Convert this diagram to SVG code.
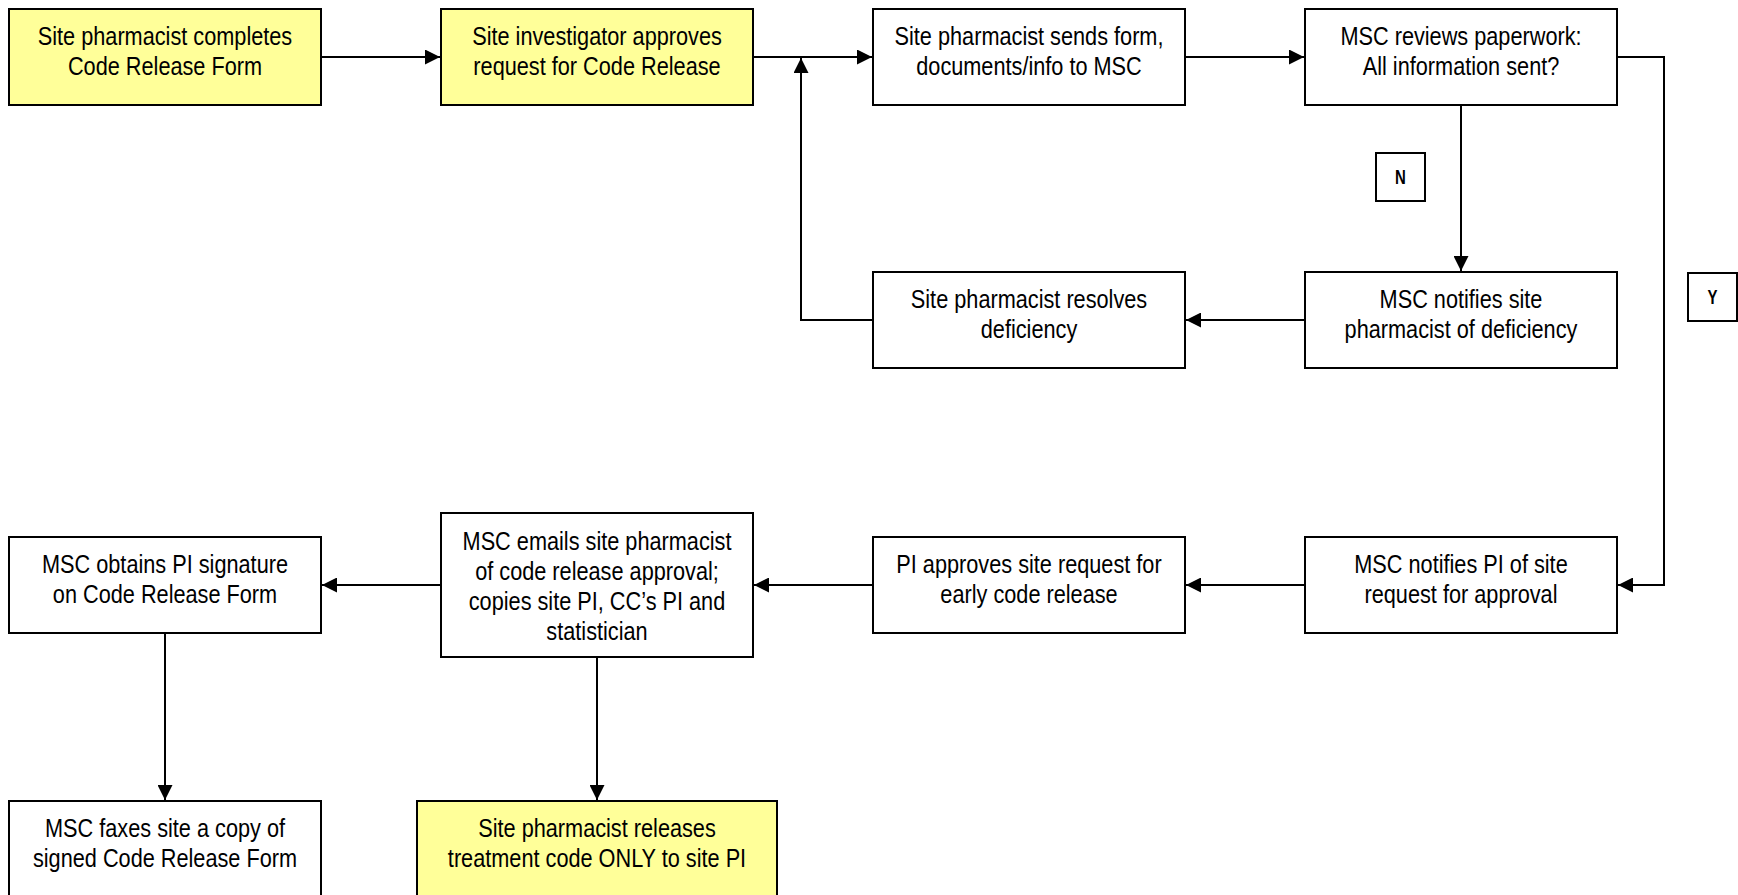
<svg xmlns="http://www.w3.org/2000/svg" width="1738" height="895" viewBox="0 0 1738 895">
  <style>
    .box { fill: #ffffff; stroke: #000000; stroke-width: 2; }
    .hi { fill: #ffff99; }
    .lbl { font-family: "Liberation Sans", Arial, sans-serif; font-size: 26px; text-anchor: middle; fill: #000000; }
    .tag { font-family: "Liberation Sans", Arial, sans-serif; font-size: 20px; font-weight: bold; text-anchor: middle; fill: #000000; }
    .wire { fill: none; stroke: #000000; stroke-width: 2; }
  </style>
  <defs>
    <marker id="arrow" markerUnits="userSpaceOnUse" markerWidth="15" markerHeight="15" viewBox="0 0 15 15" refX="15" refY="7.5" orient="auto">
      <path d="M0,0 L15,7.5 L0,15 z" fill="#000000"/>
    </marker>
  </defs>

  <rect width="1738" height="895" fill="#ffffff"/>

  <!-- connectors -->
  <g id="connectors">
    <path class="wire" d="M321 57 H440" marker-end="url(#arrow)"/>
    <path class="wire" d="M753 57 H872" marker-end="url(#arrow)"/>
    <path class="wire" d="M873 320 H801 V58" marker-end="url(#arrow)"/>
    <path class="wire" d="M1185 57 H1304" marker-end="url(#arrow)"/>
    <path class="wire" d="M1461 105 V271" marker-end="url(#arrow)"/>
    <path class="wire" d="M1617 57 H1664 V585 H1618" marker-end="url(#arrow)"/>
    <path class="wire" d="M1305 320 H1186" marker-end="url(#arrow)"/>
    <path class="wire" d="M1305 585 H1186" marker-end="url(#arrow)"/>
    <path class="wire" d="M873 585 H754" marker-end="url(#arrow)"/>
    <path class="wire" d="M441 585 H322" marker-end="url(#arrow)"/>
    <path class="wire" d="M165 633 V800" marker-end="url(#arrow)"/>
    <path class="wire" d="M597 657 V800" marker-end="url(#arrow)"/>
  </g>

  <!-- decision labels -->
  <g id="label-n">
    <rect class="box" x="1376" y="153" width="49" height="48"/>
    <text class="tag" transform="translate(1400.5 184) scale(0.75 1)">N</text>
  </g>
  <g id="label-y">
    <rect class="box" x="1688" y="273" width="49" height="48"/>
    <text class="tag" transform="translate(1712.5 304) scale(0.75 1)">Y</text>
  </g>

  <!-- process steps (condensed lettering via horizontal scale) -->
  <g id="complete-form">
    <rect class="box hi" x="9" y="9" width="312" height="96"/>
    <text class="lbl" transform="translate(165 45) scale(0.835 1)">Site pharmacist completes</text>
    <text class="lbl" transform="translate(165 75) scale(0.835 1)">Code Release Form</text>
  </g>
  <g id="investigator-approves">
    <rect class="box hi" x="441" y="9" width="312" height="96"/>
    <text class="lbl" transform="translate(597 45) scale(0.835 1)">Site investigator approves</text>
    <text class="lbl" transform="translate(597 75) scale(0.835 1)">request for Code Release</text>
  </g>
  <g id="send-form">
    <rect class="box" x="873" y="9" width="312" height="96"/>
    <text class="lbl" transform="translate(1029 45) scale(0.835 1)">Site pharmacist sends form,</text>
    <text class="lbl" transform="translate(1029 75) scale(0.835 1)">documents/info to MSC</text>
  </g>
  <g id="review-paperwork">
    <rect class="box" x="1305" y="9" width="312" height="96"/>
    <text class="lbl" transform="translate(1461 45) scale(0.835 1)">MSC reviews paperwork:</text>
    <text class="lbl" transform="translate(1461 75) scale(0.835 1)">All information sent?</text>
  </g>
  <g id="resolve-deficiency">
    <rect class="box" x="873" y="272" width="312" height="96"/>
    <text class="lbl" transform="translate(1029 308) scale(0.835 1)">Site pharmacist resolves</text>
    <text class="lbl" transform="translate(1029 338) scale(0.835 1)">deficiency</text>
  </g>
  <g id="notify-deficiency">
    <rect class="box" x="1305" y="272" width="312" height="96"/>
    <text class="lbl" transform="translate(1461 308) scale(0.835 1)">MSC notifies site</text>
    <text class="lbl" transform="translate(1461 338) scale(0.835 1)">pharmacist of deficiency</text>
  </g>
  <g id="notify-pi">
    <rect class="box" x="1305" y="537" width="312" height="96"/>
    <text class="lbl" transform="translate(1461 573) scale(0.835 1)">MSC notifies PI of site</text>
    <text class="lbl" transform="translate(1461 603) scale(0.835 1)">request for approval</text>
  </g>
  <g id="pi-approves">
    <rect class="box" x="873" y="537" width="312" height="96"/>
    <text class="lbl" transform="translate(1029 573) scale(0.835 1)">PI approves site request for</text>
    <text class="lbl" transform="translate(1029 603) scale(0.835 1)">early code release</text>
  </g>
  <g id="email-approval">
    <rect class="box" x="441" y="513" width="312" height="144"/>
    <text class="lbl" transform="translate(597 550) scale(0.835 1)">MSC emails site pharmacist</text>
    <text class="lbl" transform="translate(597 580) scale(0.835 1)">of code release approval;</text>
    <text class="lbl" transform="translate(597 610) scale(0.835 1)">copies site PI, CC’s PI and</text>
    <text class="lbl" transform="translate(597 640) scale(0.835 1)">statistician</text>
  </g>
  <g id="obtain-signature">
    <rect class="box" x="9" y="537" width="312" height="96"/>
    <text class="lbl" transform="translate(165 573) scale(0.835 1)">MSC obtains PI signature</text>
    <text class="lbl" transform="translate(165 603) scale(0.835 1)">on Code Release Form</text>
  </g>
  <g id="fax-copy">
    <rect class="box" x="9" y="801" width="312" height="96"/>
    <text class="lbl" transform="translate(165 837) scale(0.835 1)">MSC faxes site a copy of</text>
    <text class="lbl" transform="translate(165 867) scale(0.835 1)">signed Code Release Form</text>
  </g>
  <g id="release-code">
    <rect class="box hi" x="417" y="801" width="360" height="96"/>
    <text class="lbl" transform="translate(597 837) scale(0.835 1)">Site pharmacist releases</text>
    <text class="lbl" transform="translate(597 867) scale(0.835 1)">treatment code ONLY to site PI</text>
  </g>
</svg>
